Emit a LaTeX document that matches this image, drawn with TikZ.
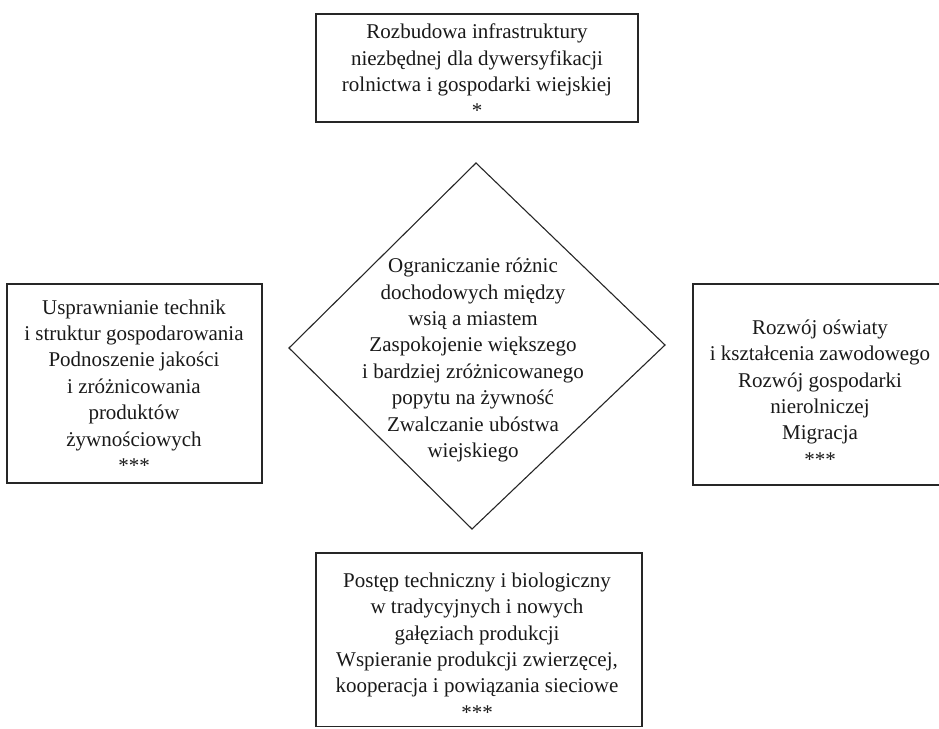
\documentclass[tikz,border=0pt]{standalone}
\usepackage{fontspec}
\setmainfont{Liberation Serif}
\begin{document}
\begin{tikzpicture}[x=1pt,y=-1pt,
  frame/.style={draw=black!85, line width=1.1pt, anchor=north west, inner sep=0pt, outer sep=0pt},
  txt/.style={align=center, font=\fontsize{21}{26.4}\selectfont, text=black!90, inner sep=0pt}]
\useasboundingbox (0,0) rectangle (939,728);
% boxes
\node[frame, minimum width=322pt, minimum height=108pt] (topbox) at (316,14) {};
\node[frame, minimum width=255pt, minimum height=199pt] (leftbox) at (7,284) {};
\node[frame, minimum width=270pt, minimum height=201pt] (rightbox) at (693,284) {};
\node[frame, minimum width=326pt, minimum height=173.5pt] (botbox) at (316,553) {};
% diamond
\coordinate (dt) at (476,163);
\coordinate (dr) at (665,345);
\coordinate (db) at (472,529);
\coordinate (dl) at (289,348);
\draw[draw=black!85, line width=1.1pt, line join=miter] (dt) -- (dr) -- (db) -- (dl) -- cycle;
% texts
\node[txt] (toptext) at (477,71) {Rozbudowa infrastruktury\\niezbędnej dla dywersyfikacji\\rolnictwa i gospodarki wiejskiej\\*};
\node[txt] (lefttext) at (134,386) {Usprawnianie technik\\i struktur gospodarowania\\Podnoszenie jakości\\i zróżnicowania\\produktów\\żywnościowych\\***};
\node[txt] (righttext) at (820,393) {Rozwój oświaty\\i kształcenia zawodowego\\Rozwój gospodarki\\nierolniczej\\Migracja\\***};
\node[txt] (centertext) at (473,360) {Ograniczanie różnic\\dochodowych między\\wsią a miastem\\Zaspokojenie większego\\i bardziej zróżnicowanego\\popytu na żywność\\Zwalczanie ubóstwa\\wiejskiego};
\node[txt] (bottext) at (477,646) {Postęp techniczny i biologiczny\\w tradycyjnych i nowych\\gałęziach produkcji\\Wspieranie produkcji zwierzęcej,\\kooperacja i powiązania sieciowe\\***};
\end{tikzpicture}
\end{document}
